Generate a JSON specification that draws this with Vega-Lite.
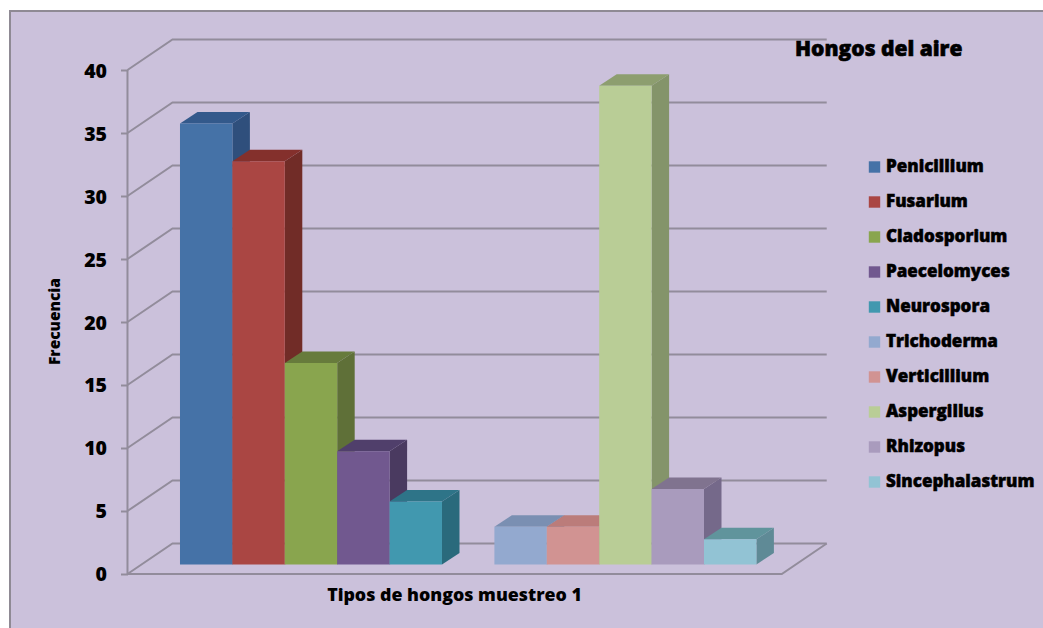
{
  "$schema": "https://vega.github.io/schema/vega-lite/v6.json",
  "width": 1040,
  "height": 625,
  "autosize": {"type": "none"},
  "padding": {"left": 10, "top": 11, "right": 0, "bottom": 0},
  "background": "#ffffff",
  "view": {"fill": "#cbc1db", "stroke": "#8f8a94", "strokeWidth": 2},
  "title": {
    "text": "Hongos del aire",
    "frame": "group",
    "anchor": "start",
    "orient": "top",
    "offset": -49,
    "dx": 785,
    "font": "Open Sans",
    "fontSize": 21,
    "fontWeight": 800,
    "color": "#000000",
    "encode": {"update": {"stroke": {"value": "#000000"}, "strokeWidth": {"value": 0.6}}}
  },
  "datasets": {
    "hongos": [
      {"hongo": "Penicillium", "frecuencia": 35},
      {"hongo": "Fusarium", "frecuencia": 32},
      {"hongo": "Cladosporium", "frecuencia": 16},
      {"hongo": "Paecelomyces", "frecuencia": 9},
      {"hongo": "Neurospora", "frecuencia": 5},
      {"hongo": "Trichoderma", "frecuencia": 3},
      {"hongo": "Verticillium", "frecuencia": 3},
      {"hongo": "Aspergillus", "frecuencia": 38},
      {"hongo": "Rhizopus", "frecuencia": 6},
      {"hongo": "Sincephalastrum", "frecuencia": 2}
    ],
    "niveles": [
      {"nivel": 0}, {"nivel": 5}, {"nivel": 10}, {"nivel": 15}, {"nivel": 20},
      {"nivel": 25}, {"nivel": 30}, {"nivel": 35}, {"nivel": 40}
    ]
  },
  "data": {"name": "hongos"},
  "transform": [
    {"window": [{"op": "row_number", "as": "orden"}]},
    {"calculate": "datum.orden <= 5 ? datum.orden - 1 : datum.orden", "as": "casilla"},
    {"calculate": "datum.frecuencia + 0.75", "as": "techo"}
  ],
  "layer": [
    {
      "data": {"name": "niveles"},
      "transform": [
        {"calculate": "[0, 1, 2]", "as": "paso"},
        {"flatten": ["paso"]},
        {"calculate": "[-1.002, -0.143, 12.342][datum.paso]", "as": "gx"},
        {"calculate": "datum.nivel + (datum.paso > 0 ? 2.42 : 0)", "as": "gy"}
      ],
      "mark": {"type": "line", "stroke": "#928c9b", "strokeWidth": 2},
      "encoding": {
        "x": {"field": "gx", "type": "quantitative", "scale": {"domain": [-3.244, 16.603], "nice": false, "zero": false},
          "axis": {"orient": "bottom", "offset": -62, "domain": false, "ticks": false, "labels": false, "grid": false,
            "title": "Tipos de hongos muestreo 1", "titleFont": "Open Sans", "titleFontSize": 17.8, "titleFontWeight": 800, "titleColor": "#000000",
            "titleX": 444, "titleY": 21, "titleBaseline": "middle", "titleAlign": "center"}},
        "y": {"field": "gy", "type": "quantitative", "scale": {"domain": [-4.921, 44.683], "nice": false, "zero": false},
          "axis": {"orient": "left", "offset": -117.5, "values": [0, 5, 10, 15, 20, 25, 30, 35, 40], "domain": false, "grid": false,
            "tickColor": "#928c9b", "tickWidth": 2, "tickSize": 7, "labelPadding": 14, "labelOffset": 1,
            "labelFont": "Open Sans", "labelFontSize": 19.5, "labelFontWeight": 800, "labelColor": "#000000",
            "title": "Frecuencia", "titleFont": "Open Sans", "titleFontSize": 15.5, "titleFontWeight": 800, "titleColor": "#000000",
            "titleX": -73, "titleY": 310, "titleAlign": "center", "titleBaseline": "middle", "titleAngle": -90}},
        "detail": {"field": "nivel"}
      }
    },
    {
      "data": {"name": "niveles"},
      "transform": [
        {"filter": "datum.nivel === 0"},
        {"calculate": "[0, 1, 2]", "as": "paso"},
        {"flatten": ["paso"]},
        {"calculate": "[-1.002, 11.484, 12.342][datum.paso]", "as": "gx"},
        {"calculate": "datum.paso === 2 ? 2.42 : 0", "as": "gy"}
      ],
      "mark": {"type": "line", "stroke": "#928c9b", "strokeWidth": 2},
      "encoding": {
        "x": {"field": "gx", "type": "quantitative"},
        "y": {"field": "gy", "type": "quantitative"}
      }
    },
    {
      "data": {"name": "niveles"},
      "transform": [{"filter": "datum.nivel === 40"}],
      "mark": {"type": "rule", "stroke": "#928c9b", "strokeWidth": 2},
      "encoding": {
        "x": {"datum": -1.002, "type": "quantitative"},
        "y": {"field": "nivel", "type": "quantitative"},
        "y2": {"datum": 0}
      }
    },
    {
      "transform": [
        {"calculate": "[0, 1]", "as": "t"},
        {"flatten": ["t"]},
        {"calculate": "datum.casilla + 1 + datum.t * 0.334", "as": "sx"},
        {"calculate": "0.75 + datum.t * 0.913", "as": "sy0"},
        {"calculate": "datum.techo + datum.t * 0.913", "as": "sy1"}
      ],
      "mark": {"type": "area", "opacity": 1},
      "encoding": {
        "x": {"field": "sx", "type": "quantitative"},
        "y": {"field": "sy1", "type": "quantitative", "stack": null},
        "y2": {"field": "sy0"},
        "color": {"field": "hongo", "type": "nominal", "legend": null, "sort": null,
          "scale": {
            "domain": ["Penicillium", "Fusarium", "Cladosporium", "Paecelomyces", "Neurospora", "Trichoderma", "Verticillium", "Aspergillus", "Rhizopus", "Sincephalastrum"],
            "range": ["#2f4f7c", "#712c27", "#5f7038", "#4a3a60", "#2a6a7c", "#6c7f9f", "#9a6d6b", "#84946a", "#75698a", "#5f8a96"]}}
      }
    },
    {
      "transform": [
        {"calculate": "[0, 1]", "as": "t"},
        {"flatten": ["t"]},
        {"calculate": "datum.techo + datum.t * 0.913", "as": "ty"},
        {"calculate": "datum.casilla + datum.t * 0.334", "as": "tx0"},
        {"calculate": "datum.casilla + 1 + datum.t * 0.334", "as": "tx1"}
      ],
      "mark": {"type": "area", "orient": "horizontal", "opacity": 1},
      "encoding": {
        "y": {"field": "ty", "type": "quantitative"},
        "x": {"field": "tx0", "type": "quantitative", "stack": null},
        "x2": {"field": "tx1"},
        "color": {"field": "hongo", "type": "nominal", "legend": null, "sort": null,
          "scale": {
            "domain": ["Penicillium", "Fusarium", "Cladosporium", "Paecelomyces", "Neurospora", "Trichoderma", "Verticillium", "Aspergillus", "Rhizopus", "Sincephalastrum"],
            "range": ["#33598b", "#84302c", "#677b3c", "#503f6b", "#2e7488", "#7a8fb2", "#bb7c7a", "#8d9e6f", "#80738f", "#60949c"]}}
      }
    },
    {
      "transform": [
        {"calculate": "datum.casilla + 1", "as": "fin"},
        {"calculate": "0.75", "as": "base"}
      ],
      "mark": {"type": "rect"},
      "encoding": {
        "x": {"field": "casilla", "type": "quantitative"},
        "x2": {"field": "fin"},
        "y": {"field": "techo", "type": "quantitative"},
        "y2": {"field": "base"},
        "color": {"field": "hongo", "type": "nominal", "sort": null,
          "scale": {
            "domain": ["Penicillium", "Fusarium", "Cladosporium", "Paecelomyces", "Neurospora", "Trichoderma", "Verticillium", "Aspergillus", "Rhizopus", "Sincephalastrum"],
            "range": ["#4572a7", "#aa4643", "#89a54e", "#71588f", "#4198af", "#93a9cf", "#d19392", "#b9cd96", "#a99bbd", "#92c3d4"]},
          "legend": {
            "orient": "none", "legendX": 856, "legendY": 147.5, "title": null,
            "symbolType": "square", "symbolSize": 130, "symbolStrokeWidth": 0,
            "labelFont": "Open Sans", "labelFontSize": 17, "labelFontWeight": 800, "labelColor": "#000000",
            "labelOffset": 3, "rowPadding": 17, "labelLimit": 200,
            "encode": {"labels": {"update": {"stroke": {"value": "#000000"}, "strokeWidth": {"value": 0.5}}}}
          }}
      }
    }
  ],
  "resolve": {"scale": {"color": "independent"}}
}
